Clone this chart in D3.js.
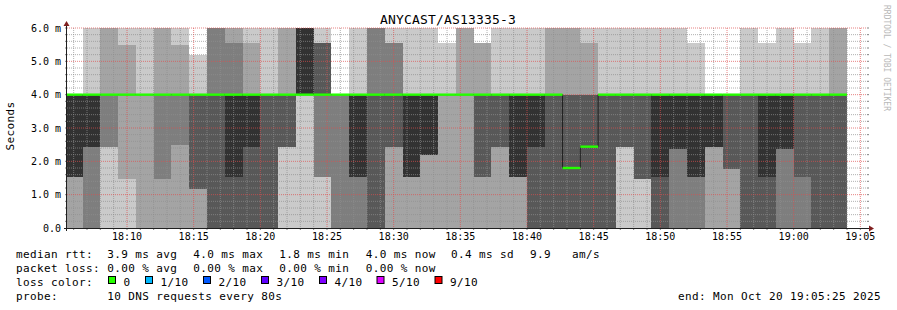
<!DOCTYPE html>
<html>
<head>
<meta charset="utf-8">
<script src="https://cdn.jsdelivr.net/npm/d3@7"></script>
<style>
body { margin: 0; background: #fff; }
svg text { font-family: "DejaVu Sans Mono", monospace; fill: #000; white-space: pre; }
</style>
</head>
<body>
<div id="chart"></div>
<script>
// Chart data
const chartTitle = "ANYCAST/AS13335-3";
const plotStart = "18:05:30";
const plotEnd = "19:05:30";
const firstStep = "18:05:20";   // start of first rrd step
const stepSeconds = 80;

// 10 sorted pings per step (ms), values above 6 are clipped
const pings = [
  [0,0,1.54,1.54,1.54,4,4,4,4,4],
  [0,0,0,2.44,2.44,4,4,4,4,7],
  [0,2.44,2.44,4,4,4,4,4,7,7],
  [0,1.47,4,4,4,4,4,4,5.5,7],
  [0,0,4,4,4,4,4,4,4,7],
  [0,0,1.47,4,4,4,4,4,7,7],
  [0,0,2.5,4,4,4,4,4,5.5,7],
  [0,0,1.17,1.17,4,4,4,4,4,5.2],
  [0,0,0,0,4,4,4,7,7,7],
  [0,0,0,0,1.54,4,4,5.55,7,7],
  [0,0,0,0,2.44,4,4,4,5.55,7],
  [0,0,0,0,4,4,4,4,4,7],
  [0,2.44,2.44,2.44,4,4,4,4,7,7],
  [0,4,4,4,4,7,7,7,7,7],
  [0,1.54,1.54,4,4,4,5.55,5.55,5.55,7],
  [0,0,0,4,4,4,4,4,4,4],
  [0,0,0,1.54,1.54,4,4,4,4,7],
  [0,0,0,0,4,4,4,7,7,7],
  [0,0,2.44,2.44,4,4,4,5.55,5.55,7],
  [0,0,1.54,1.54,1.54,4,4,4,4,7],
  [0,0,2.2,2.2,2.2,4,4,4,4,7],
  [0,0,4,4,4,4,4,4,4,5.55],
  [0,0,4,4,4,4,4,4,7,7],
  [0,0,1.54,1.54,4,4,4,4,5.55,5.55],
  [0,0,2.44,2.44,4,4,4,4,4,7],
  [0,0,1.54,1.54,1.54,4,4,4,4,7],
  [0,0,0,0,2.44,4,4,4,4,7],
  [0,0,0,0,4,4,4,4,7,7],
  [0,0,0,0,4,4,4,4,7,7],
  [0,0,0,0,4,4,4,4,5.55,7],
  [0,0,0,0,4,4,4,4,4,7],
  [0,2.44,2.44,2.44,4,4,4,4,4,7],
  [0,1.47,1.47,1.47,4,4,4,4,4,7],
  [0,0,0,0,1.54,4,4,4,4,7],
  [0,0,0,2.37,2.37,4,4,4,4,7],
  [0,0,0,1.54,1.54,4,4,4,4,5.55],
  [0,0,2.44,2.44,2.44,4,4,4,4,4],
  [0,0,1.77,1.77,4,4,4,4,4,4],
  [0,0,0,0,4,4,4,4,4,7],
  [0,0,0,0,1.54,4,4,4,4,5.55],
  [0,0,0,2.37,2.37,4,4,4,4,7],
  [0,0,0,1.54,4,4,4,4,4,5.55],
  [0,0,0,0,4,4,4,4,4,7],
  [0,0,0,0,4,4,4,4,7,7]
];

const median = [4,4,4,4,4,4,4,4,4,4, 4,4,4,4,4,4,4,4,4,4, 4,4,4,4,4,4,4,4,1.8,2.44, 4,4,4,4,4,4,4,4,4,4, 4,4,4,4];
const lossIndex = median.map(() => 0);   // no loss in any step

const yTicks = [0, 1, 2, 3, 4, 5, 6];
const yTickLabels = ["0.0", "1.0 m", "2.0 m", "3.0 m", "4.0 m", "5.0 m", "6.0 m"];
const xTickLabels = ["18:10", "18:15", "18:20", "18:25", "18:30", "18:35", "18:40", "18:45", "18:50", "18:55", "19:00", "19:05"];

const smokeColors = ["#cacaca", "#a4a4a4", "#7e7e7e", "#585858", "#323232"];
const lossLabels = ["0", "1/10", "2/10", "3/10", "4/10", "5/10", "9/10"];
const lossColors = ["#26ff00", "#00b8ff", "#0059ff", "#5e00ff", "#7e00ff", "#dd00ff", "#ff0000"];

const rttStats = ["3.9 ms avg", "4.0 ms max", "1.8 ms min", "4.0 ms now", "0.4 ms sd", "9.9   am/s"];
const lossStats = ["0.00 % avg", "0.00 % max", "0.00 % min", "0.00 % now"];
const probeText = "10 DNS requests every 80s";
const endText = "end: Mon Oct 20 19:05:25 2025";

// Layout
const width = 897, height = 310;
const plot = { left: 67, right: 867, top: 28, bottom: 228 };

const svg = d3.select("#chart")
  .append("svg")
  .attr("width", width)
  .attr("height", height);

const parseT = d3.timeParse("%H:%M:%S");
const parseHM = d3.timeParse("%H:%M");
const fmtHM = d3.timeFormat("%H:%M");

const x = d3.scaleTime()
  .domain([parseT(plotStart), parseT(plotEnd)])
  .range([plot.left, plot.right]);

const y = d3.scaleLinear()
  .domain([0, 6])
  .range([plot.bottom, plot.top]);

svg.append("clipPath").attr("id", "plotClip")
  .append("rect")
  .attr("x", plot.left).attr("y", plot.top)
  .attr("width", plot.right - plot.left).attr("height", plot.bottom - plot.top);

// step start / end times
const t0 = parseT(firstStep);
const steps = pings.map((p, i) => ({
  start: d3.timeSecond.offset(t0, i * stepSeconds),
  end: d3.timeSecond.offset(t0, (i + 1) * stepSeconds),
  p: p,
  median: median[i],
  loss: lossIndex[i]
}));

// Smoke: layer k spans ping k .. ping (10-k), darker toward the middle
const smoke = svg.append("g").attr("clip-path", "url(#plotClip)");
smokeColors.forEach((color, k) => {
  smoke.append("g")
    .selectAll("rect")
    .data(steps)
    .join("rect")
    .attr("x", d => x(d.start))
    .attr("width", d => x(d.end) - x(d.start))
    .attr("y", d => y(d.p[9 - k]))
    .attr("height", d => y(d.p[k]) - y(d.p[9 - k]))
    .attr("fill", color)
    .attr("shape-rendering", "crispEdges");
});

// Grid (dotted, drawn over the smoke like rrdtool)
const grid = svg.append("g");
const minorY = d3.range(1, 30).map(i => i * 0.2).filter(v => Math.abs(v - Math.round(v)) > 0.01);
const allMinutes = d3.range(0, 60).map(i => d3.timeMinute.offset(parseHM("18:06"), i));
const minorX = allMinutes.filter(t => !xTickLabels.includes(fmtHM(t)));
const majorX = xTickLabels.map(parseHM);
const gridGray = "rgba(143,143,143,0.7)";
const gridRed = "rgba(222,79,79,0.7)";

grid.append("g").selectAll("line").data(minorY).join("line")
  .attr("x1", plot.left).attr("x2", plot.right)
  .attr("y1", d => y(d)).attr("y2", d => y(d))
  .attr("stroke", gridGray).attr("stroke-dasharray", "1,1");
grid.append("g").selectAll("line").data(minorX).join("line")
  .attr("x1", d => x(d)).attr("x2", d => x(d))
  .attr("y1", plot.top).attr("y2", plot.bottom)
  .attr("stroke", gridGray).attr("stroke-dasharray", "1,1");
grid.append("g").selectAll("line").data(yTicks.slice(1)).join("line")
  .attr("x1", plot.left).attr("x2", plot.right)
  .attr("y1", d => y(d)).attr("y2", d => y(d))
  .attr("stroke", gridRed).attr("stroke-dasharray", "1,1");
grid.append("g").selectAll("line").data(majorX).join("line")
  .attr("x1", d => x(d)).attr("x2", d => x(d))
  .attr("y1", plot.top).attr("y2", plot.bottom)
  .attr("stroke", gridRed).attr("stroke-dasharray", "1,1");

// small ticks on both plot edges
const tickG = svg.append("g").attr("stroke", "rgba(100,100,100,0.8)");
minorY.concat(yTicks.slice(1)).forEach(v => {
  tickG.append("line").attr("x1", plot.left - 2).attr("x2", plot.left).attr("y1", y(v)).attr("y2", y(v));
  tickG.append("line").attr("x1", plot.right).attr("x2", plot.right + 2).attr("y1", y(v)).attr("y2", y(v));
});
minorX.concat(majorX).forEach(t => {
  tickG.append("line").attr("x1", x(t)).attr("x2", x(t)).attr("y1", plot.bottom).attr("y2", plot.bottom + 2);
});

// Median: thin dark step line, then loss coloured bars per step
const medLine = d3.line()
  .x(d => x(d[0])).y(d => y(d[1]))
  .curve(d3.curveStepAfter);
const medPts = steps.map(d => [d.start, d.median]);
medPts.push([steps[steps.length - 1].end, steps[steps.length - 1].median]);
svg.append("path")
  .attr("clip-path", "url(#plotClip)")
  .attr("d", medLine(medPts))
  .attr("fill", "none")
  .attr("stroke", "#202020")
  .attr("stroke-width", 1);

svg.append("g").attr("clip-path", "url(#plotClip)")
  .selectAll("rect")
  .data(steps)
  .join("rect")
  .attr("x", d => x(d.start))
  .attr("width", d => x(d.end) - x(d.start))
  .attr("y", d => y(d.median) - 1.2)
  .attr("height", 2.4)
  .attr("fill", d => lossColors[d.loss]);

// Axes
svg.append("line")
  .attr("x1", plot.left - 3).attr("x2", plot.right + 3)
  .attr("y1", plot.bottom + 0.5).attr("y2", plot.bottom + 0.5)
  .attr("stroke", "#1f1f1f");
svg.append("line")
  .attr("x1", plot.left - 0.5).attr("x2", plot.left - 0.5)
  .attr("y1", plot.bottom + 3).attr("y2", plot.top - 4)
  .attr("stroke", "#1f1f1f");
svg.append("path")
  .attr("d", `M${plot.right + 2},${plot.bottom - 2.5}L${plot.right + 7},${plot.bottom + 0.5}L${plot.right + 2},${plot.bottom + 3.5}Z`)
  .attr("fill", "#801f1f");
svg.append("path")
  .attr("d", `M${plot.left - 3.5},${plot.top - 2}L${plot.left - 0.5},${plot.top - 7}L${plot.left + 2.5},${plot.top - 2}Z`)
  .attr("fill", "#801f1f");

// Axis labels
svg.append("g").selectAll("text")
  .data(yTicks)
  .join("text")
  .attr("x", 61)
  .attr("y", d => y(d) + 3.8)
  .attr("text-anchor", "end")
  .style("font-size", "10px")
  .text((d, i) => yTickLabels[i]);

svg.append("g").selectAll("text")
  .data(xTickLabels)
  .join("text")
  .attr("x", d => x(parseHM(d)))
  .attr("y", 240)
  .attr("text-anchor", "middle")
  .style("font-size", "10px")
  .text(d => d);

svg.append("text")
  .attr("transform", "translate(14,126) rotate(-90)")
  .attr("text-anchor", "middle")
  .style("font-size", "11px")
  .style("letter-spacing", "0.4px")
  .text("Seconds");

svg.append("text")
  .attr("x", 448)
  .attr("y", 24)
  .attr("text-anchor", "middle")
  .style("font-size", "13px")
  .style("letter-spacing", "0.17px")
  .text(chartTitle);

svg.append("text")
  .attr("transform", "translate(884,5) rotate(90)")
  .style("font-size", "8px")
  .style("fill", "#b8b8b8")
  .text("RRDTOOL / TOBI OETIKER");

// Legend
const legend = svg.append("g").style("font-size", "11px").style("letter-spacing", "0.38px");
const rows = [257.5, 271.5, 285.5, 299.5];
const statX = [107.3, 193.3, 279.3, 365.7, 451, 530];

legend.append("text").attr("x", 16).attr("y", rows[0]).text("median rtt:");
rttStats.forEach((s, i) => legend.append("text").attr("x", statX[i]).attr("y", rows[0]).text(s));

legend.append("text").attr("x", 16).attr("y", rows[1]).text("packet loss:");
lossStats.forEach((s, i) => legend.append("text").attr("x", statX[i]).attr("y", rows[1]).text(s));

legend.append("text").attr("x", 16).attr("y", rows[2]).text("loss color:");
const swatchX = [108.5, 145.5, 203.5, 261.5, 319.5, 377, 435];
lossLabels.forEach((lab, i) => {
  legend.append("rect")
    .attr("x", swatchX[i]).attr("y", 276.5)
    .attr("width", 7).attr("height", 7)
    .attr("fill", lossColors[i])
    .attr("stroke", "#000");
  legend.append("text").attr("x", swatchX[i] + 15).attr("y", rows[2]).text(lab);
});

legend.append("text").attr("x", 16).attr("y", rows[3]).text("probe:");
legend.append("text").attr("x", 107.3).attr("y", rows[3]).text(probeText);
legend.append("text").attr("x", 881).attr("y", rows[3]).attr("text-anchor", "end").text(endText);
</script>
</body>
</html>
